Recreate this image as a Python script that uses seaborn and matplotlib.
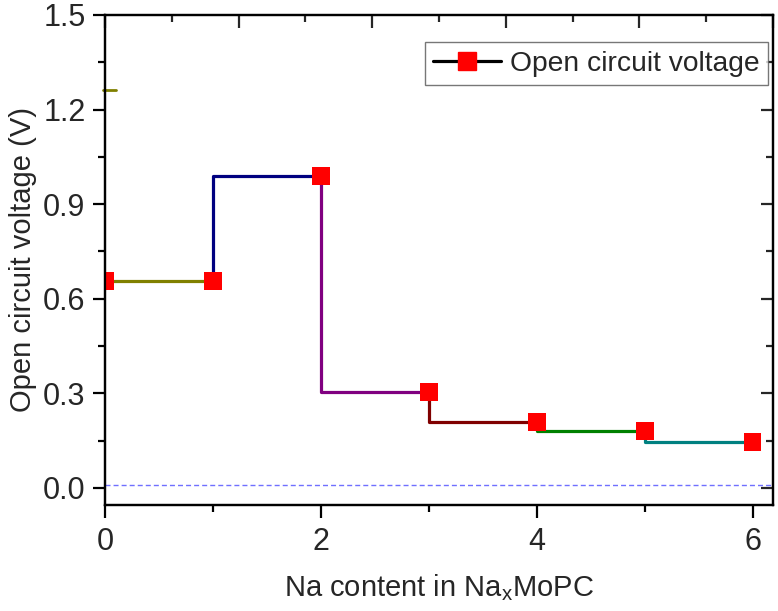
import numpy as np
import pandas as pd
import matplotlib
matplotlib.use("Agg")
import matplotlib.pyplot as plt
from matplotlib.lines import Line2D
from matplotlib.ticker import MultipleLocator
import seaborn as sns

sns.set_theme(style="white")
plt.rcParams['font.family'] = ['Liberation Sans', 'DejaVu Sans']
plt.rcParams['mathtext.default'] = 'regular'

# data
na_content = [0, 1, 2, 3, 4, 5, 6]
ocv = [0.656, 0.656, 0.99, 0.304, 0.209, 0.181, 0.146]
step_colors = ["#808000", "#000080", "#800080", "#800000", "#008000", "#008080"]
zero_ref = 0.008
stray_level = 1.263

df = pd.DataFrame({"x": na_content, "ocv": ocv})

fig = plt.figure(figsize=(7.78, 6.11), dpi=100)
ax = fig.add_axes([0.135, 0.1735, 0.8586, 0.802])

# dashed reference line near zero
ax.axhline(zero_ref, color="#7070ff", lw=1.0, ls=(0, (3.6, 2.2)), zorder=1)

# short stray olive mark at the left spine
ax.plot([-0.02, 0.1], [stray_level, stray_level], color="#808000", lw=2,
        zorder=2, clip_on=False)

# one coloured step per interval
for i, c in enumerate(step_colors):
    seg = df.iloc[i:i + 2]
    sns.lineplot(data=seg, x="x", y="ocv", ax=ax, color=c, lw=2.3,
                 drawstyle="steps-pre", zorder=3, legend=False)

sns.scatterplot(data=df, x="x", y="ocv", ax=ax, marker="s", s=165,
                color="#ff0000", edgecolor="none", linewidth=0, zorder=5,
                legend=False)

ax.set_xlim(0, 6.19)
ax.set_ylim(-0.054, 1.5)
ax.xaxis.set_major_locator(MultipleLocator(2))
ax.xaxis.set_minor_locator(MultipleLocator(1))
ax.yaxis.set_major_locator(MultipleLocator(0.3))
ax.yaxis.set_minor_locator(MultipleLocator(0.15))
ax.yaxis.set_major_formatter(matplotlib.ticker.FormatStrFormatter("%.1f"))

ax.tick_params(which="both", direction="out", color="black", width=1.6,
               labelsize=22, bottom=True, left=True, right=False, pad=5)
ax.tick_params(axis="x", pad=7)
ax.tick_params(which="major", length=9)
ax.tick_params(which="minor", length=5)
for s in ax.spines.values():
    s.set_color("black")
    s.set_linewidth(1.6)

# inward ticks on the right
ax_r = ax.secondary_yaxis("right")
ax_r.yaxis.set_major_locator(MultipleLocator(0.3))
ax_r.yaxis.set_minor_locator(MultipleLocator(0.15))
ax_r.tick_params(which="both", direction="in", width=1.6, labelright=False)
ax_r.tick_params(which="major", length=9)
ax_r.tick_params(which="minor", length=5)

# top axis has its own scale (0-5), ticks inward, no labels
ax_t = ax.twiny()
ax_t.set_xlim(0, 5)
ax_t.xaxis.set_major_locator(MultipleLocator(1))
ax_t.xaxis.set_minor_locator(MultipleLocator(0.5))
ax_t.tick_params(which="both", direction="in", width=1.6, top=True,
                 labeltop=False)
ax_t.tick_params(which="major", length=9)
ax_t.tick_params(which="minor", length=5)
ax_t.grid(False)
for s in ax_t.spines.values():
    s.set_linewidth(1.6)
    s.set_color("black")

ax.set_xlabel("Na content in Na$_{x}$MoPC", fontsize=21, labelpad=11)
ax.set_ylabel("Open circuit voltage (V)", fontsize=21, labelpad=4)
ax.grid(False)

handle = Line2D([], [], color="black", lw=2.3, marker="s", markersize=12.8,
                markerfacecolor="#ff0000", markeredgecolor="#ff0000")
leg = ax_t.legend([handle], ["Open circuit voltage"], loc="upper right",
                  bbox_to_anchor=(0.992, 0.944), fontsize=20.3, frameon=True,
                  fancybox=False, edgecolor="#555555", handlelength=2.4,
                  handletextpad=0.3, borderpad=0.3, borderaxespad=0)
leg.get_frame().set_linewidth(1.0)

fig.savefig("out.png", dpi=100)
